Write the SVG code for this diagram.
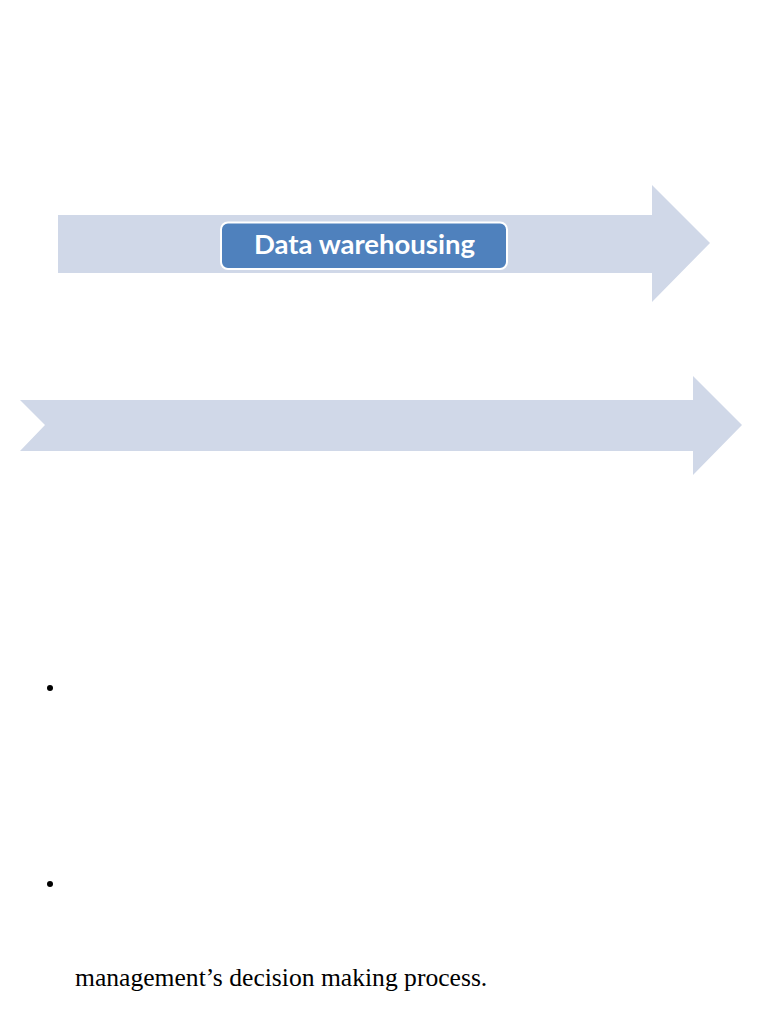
<svg xmlns="http://www.w3.org/2000/svg" width="768" height="1024" viewBox="0 0 768 1024">
  <style>
    .arrow { fill: #d0d8e8; }
    .box { fill: #4f81bd; stroke: #ffffff; stroke-width: 2; }
    .label { font-family: Lato, "Open Sans", sans-serif; font-weight: bold; font-size: 27.5px; fill: #ffffff; }
    .body { font-family: "Liberation Serif", serif; font-size: 25.6px; fill: #000000; }
    .bullet { fill: #000000; }
  </style>
  <rect width="768" height="1024" fill="#ffffff"/>
  <g id="arrow1">
    <polygon class="arrow" points="58,215 652,215 652,185 710,243 652,302 652,273 58,273"/>
  </g>
  <g id="node-data-warehousing">
    <rect class="box" x="221" y="222.5" width="286" height="46.5" rx="7" ry="7"/>
    <text class="label" x="364.5" y="254" text-anchor="middle">Data warehousing</text>
  </g>
  <g id="arrow2">
    <polygon class="arrow" points="20,400 693,400 693,376 742,425 693,475 693,451 20,451 45,425"/>
  </g>
  <g id="connectors"></g>
  <g id="text">
    <circle class="bullet" cx="50" cy="688" r="3"/>
    <circle class="bullet" cx="50" cy="884" r="3"/>
    <text class="body" x="75" y="986">management’s decision making process.</text>
  </g>
</svg>
